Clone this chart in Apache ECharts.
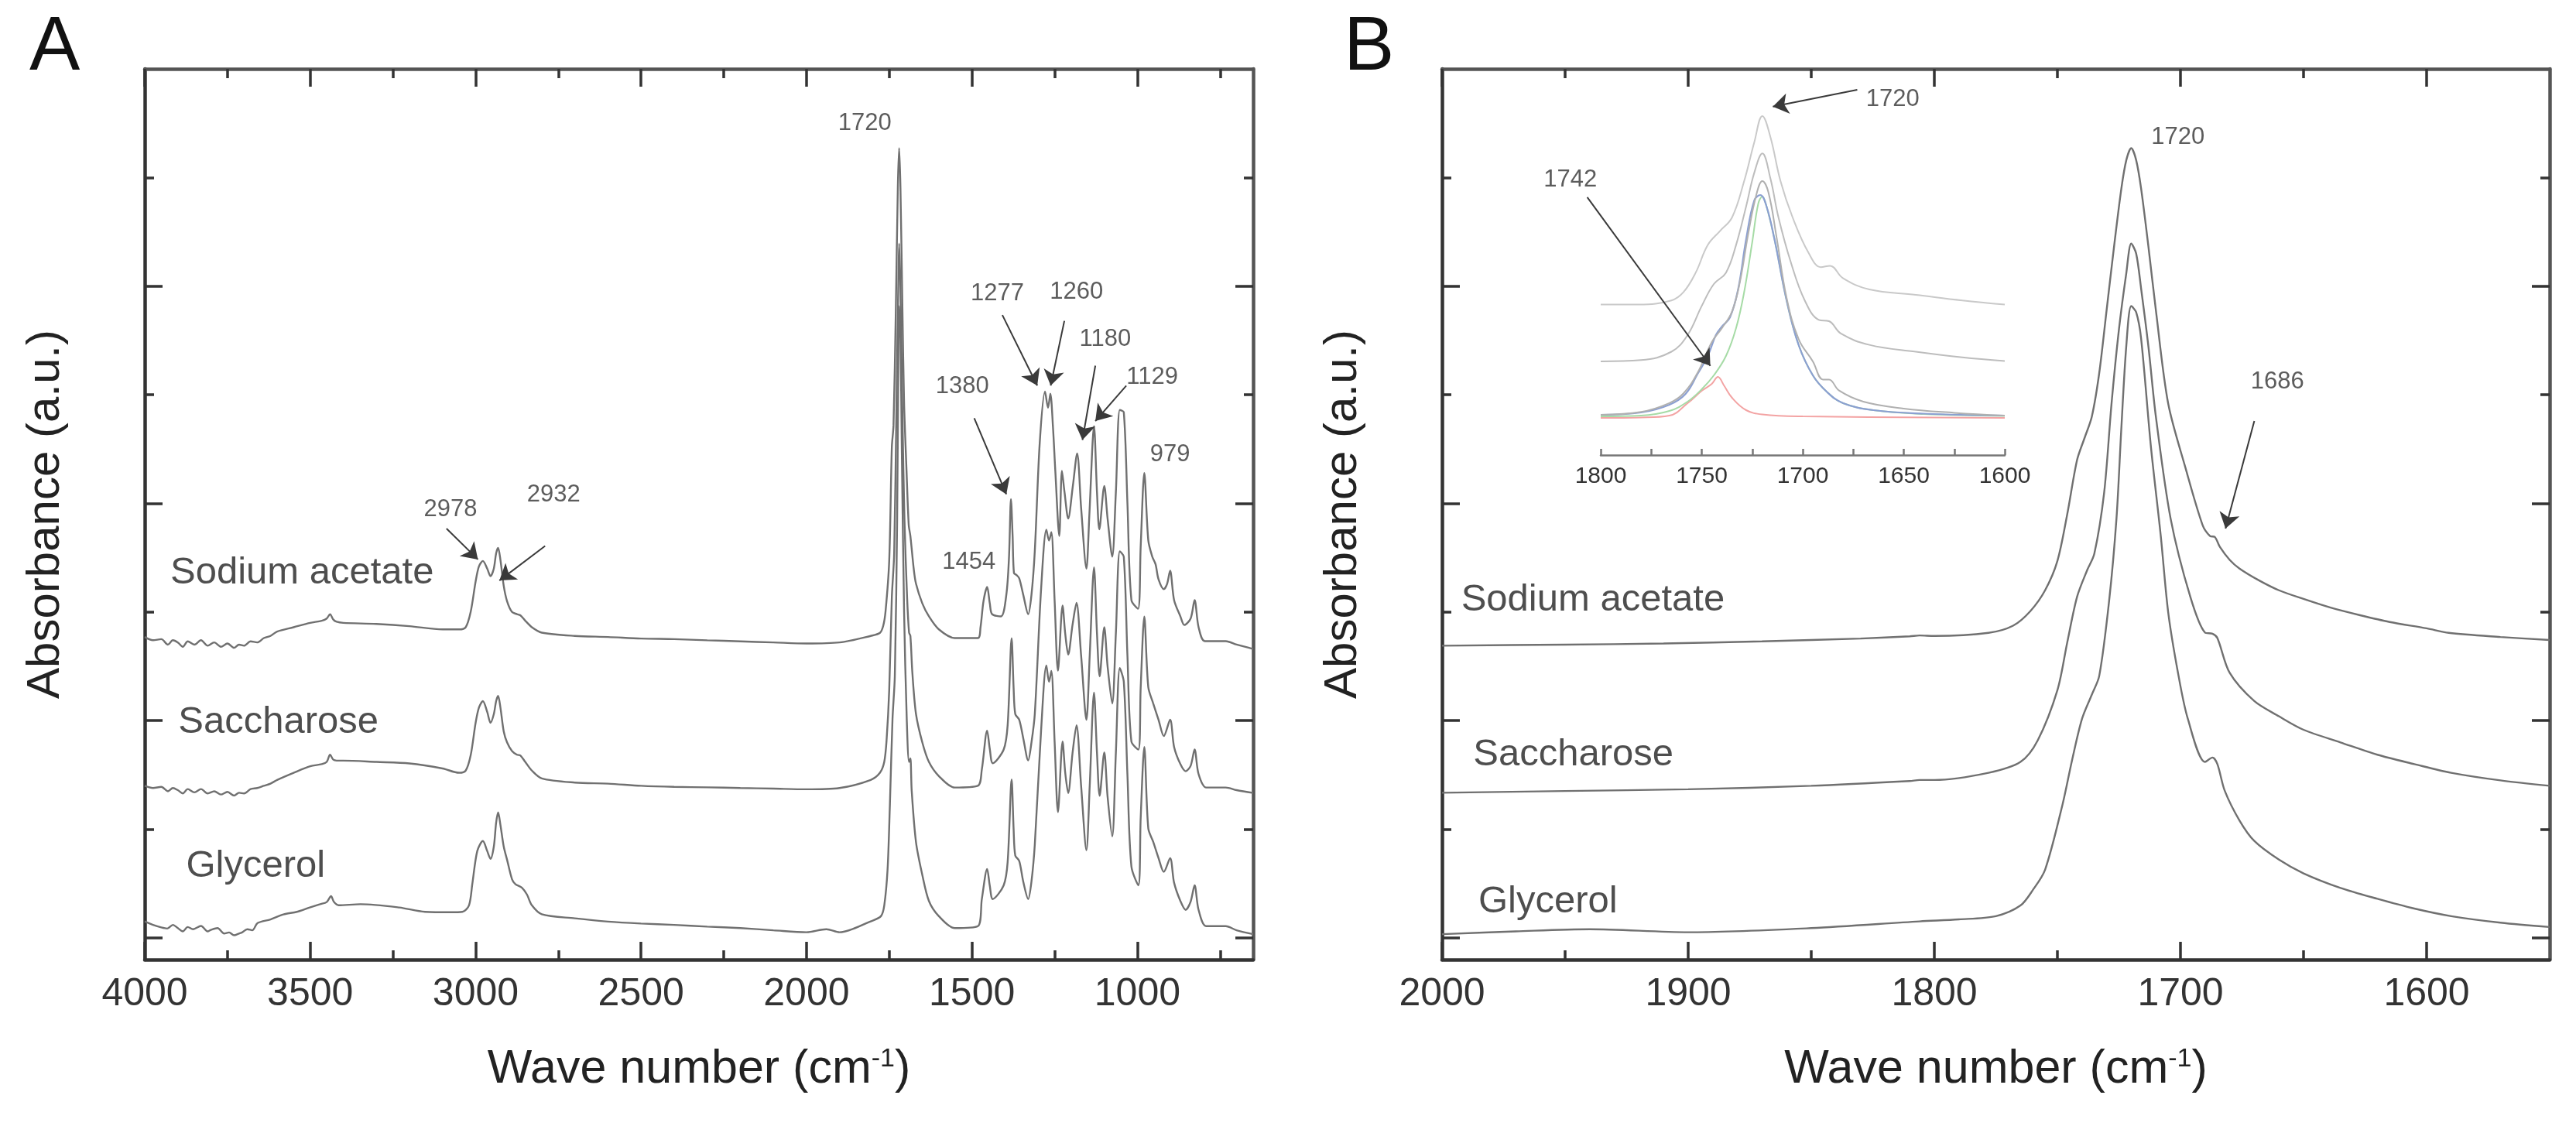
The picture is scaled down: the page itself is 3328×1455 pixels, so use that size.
<!DOCTYPE html>
<html><head><meta charset="utf-8">
<script src="https://cdn.jsdelivr.net/npm/echarts@6/dist/echarts.min.js"></script>
<style>html,body{margin:0;padding:0;background:#fff}#c{width:3328px;height:1455px}</style>
</head><body><div id="c"></div>
<script>
// ---------------- DATA ----------------
// Panel A: full spectra [wave number, absorbance a.u. (offset)]
const panelA_sodiumAcetate = [[4000,1.385],[3975,1.37],[3950,1.375],[3930,1.35],[3915,1.37],[3900,1.36],[3885,1.34],[3870,1.365],[3850,1.35],[3830,1.37],[3810,1.345],[3790,1.36],[3770,1.34],[3750,1.355],[3730,1.335],[3715,1.35],[3700,1.345],[3680,1.365],[3660,1.36],[3640,1.38],[3620,1.39],[3600,1.41],[3550,1.43],[3500,1.45],[3465,1.46],[3450,1.47],[3440,1.49],[3430,1.465],[3420,1.455],[3400,1.45],[3300,1.445],[3200,1.435],[3100,1.42],[3050,1.42],[3030,1.43],[3015,1.5],[3000,1.64],[2990,1.71],[2978,1.735],[2965,1.70],[2955,1.665],[2945,1.70],[2938,1.77],[2932,1.795],[2925,1.74],[2915,1.62],[2905,1.55],[2890,1.50],[2875,1.49],[2865,1.485],[2850,1.46],[2830,1.43],[2800,1.405],[2700,1.39],[2600,1.385],[2500,1.378],[2400,1.375],[2300,1.37],[2200,1.365],[2100,1.36],[2000,1.355],[1900,1.36],[1806,1.39],[1778,1.404],[1768,1.437],[1761,1.504],[1750,1.735],[1742,2.26],[1737,2.36],[1730,2.89],[1724,3.45],[1720,3.635],[1716,3.45],[1710,2.89],[1705,2.46],[1698,2.165],[1691,1.90],[1686,1.85],[1676,1.70],[1669,1.63],[1650,1.54],[1630,1.48],[1600,1.42],[1552,1.38],[1482,1.38],[1474,1.43],[1465,1.55],[1454,1.615],[1446,1.54],[1439,1.49],[1412,1.48],[1396,1.58],[1388,1.75],[1382,2.02],[1377,1.85],[1373,1.68],[1365,1.67],[1357,1.655],[1345,1.58],[1330,1.49],[1320,1.58],[1310,1.78],[1295,2.28],[1279,2.515],[1270,2.44],[1263,2.505],[1255,2.35],[1248,2.15],[1236,1.85],[1228,2.15],[1220,2.05],[1209,1.93],[1195,2.08],[1182,2.23],[1170,1.98],[1154,1.70],[1145,1.95],[1131,2.355],[1122,2.05],[1115,1.88],[1100,2.08],[1090,1.93],[1076,1.755],[1065,2.05],[1053,2.43],[1041,2.42],[1030,2.0],[1018,1.555],[998,1.515],[990,1.8],[979,2.14],[967,1.83],[955,1.755],[945,1.72],[936,1.65],[920,1.605],[910,1.63],[901,1.69],[889,1.555],[870,1.48],[858,1.44],[839,1.47],[827,1.555],[815,1.43],[796,1.366],[733,1.366],[700,1.35],[650,1.33]];
const panelA_saccharose = [[4000,0.70],[3975,0.69],[3950,0.695],[3930,0.675],[3915,0.69],[3900,0.68],[3885,0.665],[3870,0.685],[3850,0.67],[3830,0.685],[3810,0.665],[3790,0.675],[3770,0.66],[3750,0.672],[3730,0.655],[3715,0.668],[3700,0.665],[3680,0.685],[3660,0.69],[3640,0.70],[3620,0.71],[3600,0.727],[3550,0.76],[3500,0.79],[3465,0.80],[3450,0.81],[3440,0.843],[3430,0.82],[3420,0.816],[3400,0.816],[3300,0.81],[3200,0.803],[3100,0.78],[3050,0.76],[3030,0.77],[3015,0.84],[3000,0.99],[2990,1.06],[2978,1.09],[2965,1.04],[2955,0.99],[2945,1.03],[2938,1.09],[2932,1.114],[2925,1.06],[2915,0.95],[2905,0.90],[2890,0.86],[2875,0.843],[2865,0.84],[2850,0.81],[2830,0.77],[2800,0.734],[2700,0.715],[2600,0.71],[2500,0.70],[2400,0.695],[2300,0.693],[2200,0.69],[2100,0.687],[2000,0.684],[1900,0.69],[1806,0.727],[1778,0.76],[1765,0.81],[1758,0.909],[1750,1.14],[1742,1.57],[1735,1.768],[1728,2.46],[1722,3.06],[1720,3.196],[1716,2.99],[1710,2.40],[1704,1.93],[1696,1.57],[1690,1.405],[1686,1.39],[1680,1.22],[1669,1.03],[1650,0.90],[1630,0.81],[1600,0.745],[1552,0.692],[1482,0.70],[1470,0.776],[1454,0.954],[1446,0.87],[1437,0.804],[1404,0.867],[1392,0.98],[1380,1.379],[1374,1.15],[1369,1.03],[1357,1.004],[1345,0.92],[1330,0.817],[1320,0.90],[1310,1.03],[1291,1.604],[1275,1.879],[1267,1.829],[1260,1.867],[1250,1.55],[1240,1.23],[1226,1.53],[1218,1.40],[1209,1.304],[1196,1.44],[1184,1.542],[1170,1.30],[1154,1.004],[1144,1.30],[1131,1.705],[1122,1.40],[1114,1.204],[1100,1.43],[1090,1.25],[1076,1.079],[1065,1.40],[1053,1.779],[1041,1.754],[1030,1.30],[1018,0.904],[997,0.867],[990,1.15],[979,1.479],[967,1.154],[952,1.079],[936,1.004],[920,0.929],[901,1.004],[889,0.879],[870,0.80],[854,0.767],[839,0.792],[827,0.867],[815,0.754],[792,0.692],[733,0.692],[700,0.68],[650,0.667]];
const panelA_glycerol = [[4000,0.076],[3975,0.06],[3950,0.048],[3932,0.043],[3915,0.06],[3900,0.045],[3885,0.03],[3870,0.05],[3854,0.04],[3830,0.055],[3810,0.03],[3800,0.037],[3780,0.045],[3760,0.02],[3745,0.025],[3730,0.012],[3715,0.02],[3706,0.025],[3690,0.04],[3675,0.035],[3659,0.068],[3620,0.085],[3581,0.108],[3540,0.12],[3503,0.139],[3470,0.155],[3450,0.165],[3437,0.192],[3428,0.165],[3414,0.15],[3348,0.155],[3231,0.14],[3153,0.12],[3075,0.118],[3040,0.12],[3020,0.15],[3010,0.248],[2995,0.40],[2978,0.446],[2965,0.40],[2955,0.364],[2945,0.42],[2938,0.53],[2932,0.578],[2925,0.52],[2915,0.42],[2905,0.36],[2890,0.27],[2880,0.248],[2860,0.231],[2845,0.2],[2830,0.15],[2800,0.109],[2700,0.09],[2600,0.075],[2500,0.066],[2400,0.06],[2300,0.052],[2200,0.045],[2100,0.035],[2000,0.026],[1940,0.04],[1900,0.026],[1806,0.076],[1775,0.10],[1765,0.149],[1755,0.314],[1748,0.61],[1740,1.008],[1733,1.206],[1726,1.93],[1722,2.726],[1720,2.908],[1716,2.76],[1712,2.26],[1705,1.50],[1697,1.008],[1690,0.81],[1686,0.826],[1682,0.677],[1669,0.44],[1650,0.29],[1630,0.17],[1600,0.10],[1552,0.045],[1482,0.054],[1470,0.179],[1454,0.317],[1446,0.24],[1437,0.179],[1404,0.242],[1392,0.35],[1380,0.729],[1374,0.5],[1369,0.379],[1357,0.354],[1345,0.26],[1330,0.179],[1320,0.26],[1310,0.429],[1291,0.954],[1275,1.254],[1267,1.179],[1260,1.229],[1250,0.90],[1240,0.579],[1226,0.904],[1218,0.76],[1209,0.667],[1196,0.85],[1184,0.979],[1170,0.70],[1154,0.404],[1144,0.70],[1131,1.129],[1122,0.85],[1114,0.654],[1100,0.854],[1090,0.65],[1076,0.467],[1065,0.85],[1053,1.242],[1041,1.179],[1030,0.75],[1018,0.329],[997,0.242],[990,0.55],[979,0.879],[967,0.504],[952,0.442],[936,0.367],[920,0.304],[901,0.367],[889,0.254],[870,0.17],[854,0.129],[839,0.167],[827,0.242],[815,0.129],[792,0.054],[733,0.054],[700,0.035],[650,0.017]];

// Panel B: carbonyl region
const panelB_sodiumAcetate = [[2000,1.345],[1950,1.35],[1910,1.355],[1870,1.365],[1830,1.378],[1810,1.388],[1806,1.392],[1800,1.39],[1778,1.404],[1768,1.437],[1761,1.504],[1755,1.60],[1750,1.735],[1746,1.95],[1742,2.20],[1739,2.30],[1736,2.40],[1733,2.60],[1730,2.89],[1727,3.18],[1724,3.45],[1722,3.58],[1720,3.635],[1718,3.58],[1716,3.45],[1713,3.18],[1710,2.89],[1705,2.46],[1698,2.165],[1691,1.90],[1688,1.85],[1686,1.845],[1684,1.80],[1680,1.74],[1676,1.70],[1668,1.645],[1660,1.60],[1650,1.56],[1639,1.52],[1627,1.485],[1615,1.454],[1600,1.425],[1591,1.404],[1570,1.385],[1550,1.371]];
const panelB_saccharose = [[2000,0.668],[1950,0.676],[1900,0.684],[1850,0.70],[1810,0.722],[1806,0.727],[1800,0.727],[1778,0.76],[1765,0.81],[1758,0.909],[1750,1.14],[1746,1.36],[1742,1.57],[1738,1.69],[1735,1.768],[1731,2.05],[1728,2.46],[1725,2.80],[1722,3.06],[1720,3.196],[1718,3.15],[1716,2.99],[1713,2.72],[1710,2.40],[1704,1.93],[1696,1.57],[1690,1.405],[1687,1.40],[1685,1.38],[1680,1.22],[1670,1.09],[1660,1.02],[1650,0.958],[1635,0.90],[1620,0.843],[1605,0.80],[1590,0.76],[1570,0.725],[1550,0.70]];
const panelB_glycerol = [[2000,0.017],[1970,0.03],[1940,0.04],[1900,0.026],[1850,0.045],[1806,0.076],[1790,0.085],[1775,0.10],[1765,0.149],[1760,0.22],[1755,0.314],[1748,0.61],[1744,0.82],[1740,1.008],[1736,1.12],[1733,1.206],[1729,1.55],[1726,1.93],[1724,2.35],[1722,2.726],[1720,2.908],[1718,2.88],[1716,2.76],[1712,2.26],[1708,1.85],[1705,1.50],[1701,1.22],[1697,1.008],[1690,0.81],[1687,0.83],[1685,0.80],[1682,0.677],[1676,0.54],[1670,0.446],[1660,0.36],[1650,0.297],[1635,0.23],[1620,0.18],[1605,0.135],[1590,0.10],[1570,0.07],[1550,0.05]];

// Inset (panel B): spectra and band fit
const inset_spectrum1 = [[1800,1.944],[1781,1.944],[1765,1.998],[1759,2.106],[1753,2.356],[1747,2.714],[1741,2.894],[1735,3.07],[1729,3.54],[1724,4.04],[1720,4.381],[1716,4.11],[1711,3.54],[1705,3.07],[1697,2.607],[1691,2.428],[1686.5,2.446],[1680,2.284],[1667,2.14],[1644,2.07],[1621,1.998],[1600,1.944]];
const inset_spectrum2 = [[1800,1.21],[1780,1.227],[1765,1.335],[1757,1.55],[1750,1.926],[1744,2.21],[1738,2.356],[1733,2.714],[1728,3.216],[1724,3.646],[1720,3.897],[1716,3.574],[1712,3.07],[1706,2.50],[1699,1.998],[1692,1.747],[1687,1.73],[1681,1.568],[1667,1.424],[1644,1.335],[1621,1.263],[1600,1.216]];
const inset_spectrum3 = [[1800,0.521],[1780,0.557],[1766,0.671],[1759,0.797],[1752,1.066],[1745,1.46],[1740,1.64],[1735,1.854],[1731,2.25],[1727,2.858],[1723,3.36],[1720,3.54],[1717,3.395],[1713,2.822],[1708,2.034],[1702,1.496],[1695,1.21],[1690,0.976],[1687,0.976],[1682,0.833],[1670,0.69],[1650,0.60],[1625,0.546],[1600,0.51]];
const inset_fitSum = [[1800,0.52],[1780,0.55],[1766,0.65],[1758,0.79],[1752,1.05],[1747,1.28],[1743,1.55],[1740,1.66],[1736,1.78],[1732,2.14],[1728,2.79],[1724,3.29],[1721,3.36],[1718,3.22],[1714,2.79],[1708,2.0],[1702,1.42],[1695,1.03],[1688,0.815],[1680,0.67],[1665,0.58],[1640,0.535],[1600,0.51]];
const inset_band1720 = [[1800,0.50],[1780,0.51],[1766,0.57],[1757,0.69],[1750,0.85],[1744,1.03],[1738,1.28],[1733,1.64],[1729,2.105],[1725,2.75],[1722,3.25],[1720,3.34],[1718,3.22],[1714,2.79],[1708,2.0],[1702,1.42],[1695,1.03],[1688,0.815],[1680,0.67],[1665,0.58],[1640,0.53],[1600,0.505]];
const inset_band1742 = [[1800,0.48],[1780,0.485],[1766,0.51],[1757,0.67],[1750,0.83],[1745,0.92],[1742,1.01],[1739,0.90],[1735,0.74],[1728,0.58],[1720,0.525],[1700,0.50],[1600,0.48]];

// Ticks
const ticksA_major = [4000,3500,3000,2500,2000,1500,1000];
const ticksA_minor = [3750,3250,2750,2250,1750,1250,750];
const ticksB_major = [2000,1900,1800,1700,1600];
const ticksB_minor = [1950,1850,1750,1650];
const ticksY_major = [0,1,2,3];
const ticksY_minor = [0.5,1.5,2.5,3.5];
const ticksInset_labels = [1800,1750,1700,1650,1600];
const ticksInset_all = [1800,1775,1750,1725,1700,1675,1650,1625,1600];

// Annotations [wave number, y, text]
const peakLabelsA = [[1824,3.75,'1720'],[3076,1.973,'2978'],[2764,2.039,'2932'],[1529,2.537,'1380'],[1509,1.73,'1454'],[1423,2.967,'1277'],[1184,2.974,'1260'],[1097,2.754,'1180'],[955,2.579,'1129'],[901,2.224,'979']];
const arrowsA = [[[3088,1.884],[2993,1.742]],[[2790,1.804],[2928,1.645]],[[1493,2.392],[1396,2.042]],[[1408,2.867],[1302.5,2.542]],[[1220.6,2.84],[1262,2.542]],[[1127,2.634],[1166,2.292]],[[1033.5,2.542],[1127,2.379]]];
const sampleLabelsA = [[3924,1.679,'Sodium acetate'],[3900,0.991,'Saccharose'],[3876,0.33,'Glycerol']];
const peakLabelsB = [[1701,3.685,'1720'],[1660.6,2.561,'1686'],[1947.9,3.488,'1742'],[1816.9,3.858,'1720']];
const arrowsB = [[[1670,2.379],[1681.7,1.884]],[[1941,3.409],[1891,2.633]],[[1831.3,3.904],[1865.6,3.826]]];
const sampleLabelsB = [[1992.4,1.553,'Sodium acetate'],[1987.5,0.843,'Saccharose'],[1985.4,0.165,'Glycerol']];

// ---------------- CHART ----------------
const FONT = 'Liberation Sans, Arial, Helvetica, sans-serif';
const chart = echarts.init(document.getElementById('c'), null, {renderer:'canvas'});
const plain = v => String(v);

const xAxes = [], yAxes = [];
function frame(grid, xr, xMaj, xMin, yr, yMaj, yMin) {
  const base = xAxes.length;
  const common = {type:'value', gridIndex:grid, splitLine:{show:false}};
  const xc = Object.assign({}, common, {min:xr[0], max:xr[1], inverse:true});
  const yc = Object.assign({}, common, {min:yr[0], max:yr[1]});
  const tick = (vals, len) => ({show:true, inside:true, length:len, customValues:vals, lineStyle:{color:'#333', width:3.5}});
  xAxes.push(Object.assign({}, xc, {position:'bottom',
    axisLine:{show:true, onZero:false, lineStyle:{color:'#333', width:4.5}},
    axisTick:tick(xMaj,23),
    axisLabel:{show:true, customValues:xMaj, formatter:plain, fontSize:50, color:'#333', margin:20, fontFamily:FONT},
    name:'Wave number (cm{sup|-1})', nameLocation:'middle', nameGap:112,
    nameTextStyle:{fontSize:61, color:'#222', fontFamily:FONT,
      rich:{sup:{fontSize:34, color:'#222', fontFamily:FONT, verticalAlign:'top', lineHeight:34}}}}));
  xAxes.push(Object.assign({}, xc, {position:'bottom', axisLine:{show:false, onZero:false}, axisTick:tick(xMin,12), axisLabel:{show:false}}));
  xAxes.push(Object.assign({}, xc, {position:'top', axisLine:{show:true, onZero:false, lineStyle:{color:'#555', width:4.5}}, axisTick:tick(xMaj,23), axisLabel:{show:false}}));
  xAxes.push(Object.assign({}, xc, {position:'top', axisLine:{show:false, onZero:false}, axisTick:tick(xMin,12), axisLabel:{show:false}}));
  yAxes.push(Object.assign({}, yc, {position:'left',
    axisLine:{show:true, onZero:false, lineStyle:{color:'#333', width:4.5}},
    axisTick:tick(yMaj,23), axisLabel:{show:false},
    name:'Absorbance (a.u.)', nameLocation:'middle', nameGap:98,
    nameTextStyle:{fontSize:60, color:'#222', fontFamily:FONT}}));
  yAxes.push(Object.assign({}, yc, {position:'left', axisLine:{show:false, onZero:false}, axisTick:tick(yMin,12), axisLabel:{show:false}}));
  yAxes.push(Object.assign({}, yc, {position:'right', axisLine:{show:true, onZero:false, lineStyle:{color:'#555', width:4.5}}, axisTick:tick(yMaj,23), axisLabel:{show:false}}));
  yAxes.push(Object.assign({}, yc, {position:'right', axisLine:{show:false, onZero:false}, axisTick:tick(yMin,12), axisLabel:{show:false}}));
  return base;
}
const aIdx = frame(0, [650,4000], ticksA_major, ticksA_minor, [-0.1,4.0], ticksY_major, ticksY_minor);
const bIdx = frame(1, [1550,2000], ticksB_major, ticksB_minor, [-0.1,4.0], ticksY_major, ticksY_minor);
// inset axes
const iIdx = xAxes.length;
xAxes.push({type:'value', gridIndex:2, min:1600, max:1800, inverse:true, position:'bottom', splitLine:{show:false},
  axisLine:{show:true, onZero:false, lineStyle:{color:'#777', width:2.5}},
  axisTick:{show:true, inside:true, length:8, customValues:ticksInset_all, lineStyle:{color:'#777', width:2.5}},
  axisLabel:{show:true, customValues:ticksInset_labels, formatter:plain, fontSize:30, color:'#333', margin:13, fontFamily:FONT}});
yAxes.push({type:'value', gridIndex:2, min:0, max:4.5, show:false, splitLine:{show:false}});

const specLine = (name, data, xi, yi) => ({type:'line', name, data, xAxisIndex:xi, yAxisIndex:yi,
  showSymbol:false, symbol:'none', smooth:0.3, clip:true, silent:true,
  lineStyle:{color:'#707070', width:2.4}});
const insetLine = (name, data, color, w) => ({type:'line', name, data, xAxisIndex:iIdx, yAxisIndex:iIdx,
  showSymbol:false, symbol:'none', smooth:0.4, silent:true, lineStyle:{color, width:w}});
const textSeries = (data, xi, yi, fs, pos, color, arrows) => {
  const s = {type:'scatter', data, xAxisIndex:xi, yAxisIndex:yi, symbolSize:1, silent:true,
    itemStyle:{color:'rgba(0,0,0,0)'},
    label:{show:true, formatter:p=>p.value[2], position:pos, distance:0, fontSize:fs, color, fontFamily:FONT}};
  if (arrows) s.markLine = {silent:true, symbol:['none','arrow'], symbolSize:20, animation:false,
    lineStyle:{color:'#3a3a3a', width:2, type:'solid'}, label:{show:false}, emphasis:{disabled:true},
    data: arrows.map(a=>[{coord:a[0]},{coord:a[1]}])};
  return s;
};

chart.setOption({
  animation:false,
  backgroundColor:'#fff',
  textStyle:{fontFamily:FONT},
  title:[
    {text:'A', left:38, top:14, padding:0, textStyle:{fontSize:98, fontWeight:'normal', color:'#111', fontFamily:FONT}},
    {text:'B', left:1736, top:14, padding:0, textStyle:{fontSize:98, fontWeight:'normal', color:'#111', fontFamily:FONT}}
  ],
  grid:[
    {left:187, top:89, width:1432, height:1151},
    {left:1863, top:89, width:1431, height:1151},
    {left:2068, top:138, width:522, height:450}
  ],
  xAxis:xAxes, yAxis:yAxes,
  series:[
    specLine('Sodium acetate', panelA_sodiumAcetate, aIdx, aIdx),
    specLine('Saccharose', panelA_saccharose, aIdx, aIdx),
    specLine('Glycerol', panelA_glycerol, aIdx, aIdx),
    specLine('Sodium acetate', panelB_sodiumAcetate, bIdx, bIdx),
    specLine('Saccharose', panelB_saccharose, bIdx, bIdx),
    specLine('Glycerol', panelB_glycerol, bIdx, bIdx),
    insetLine('band 1742', inset_band1742, '#f3a3a3', 2),
    insetLine('band 1720', inset_band1720, '#a6dba6', 2),
    insetLine('fit', inset_fitSum, '#8b9fd2', 2.2),
    insetLine('spectrum 3', inset_spectrum3, '#b0b0b0', 2),
    insetLine('spectrum 2', inset_spectrum2, '#bdbdbd', 2),
    insetLine('spectrum 1', inset_spectrum1, '#c9c9c9', 2),
    textSeries(peakLabelsA, aIdx, aIdx, 31, 'inside', '#333', arrowsA),
    textSeries(sampleLabelsA, aIdx, aIdx, 49, 'right', '#222', null),
    textSeries(peakLabelsB, bIdx, bIdx, 31, 'inside', '#333', arrowsB),
    textSeries(sampleLabelsB, bIdx, bIdx, 49, 'right', '#222', null)
  ]
});
</script></body></html>
